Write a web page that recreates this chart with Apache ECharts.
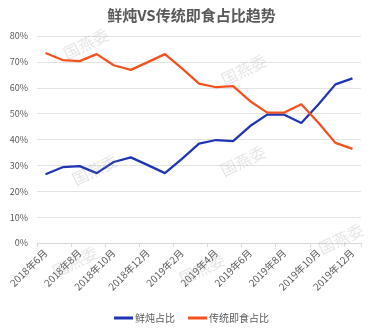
<!DOCTYPE html>
<html>
<head>
<meta charset="utf-8">
<script src="https://cdn.jsdelivr.net/npm/echarts@6/dist/echarts.min.js"></script>
<style>html,body{margin:0;padding:0;background:#fff}#c{width:383px;height:334px}</style>
</head>
<body>
<div id="c"></div>
<script>
const categories = ['2018年6月','2018年7月','2018年8月','2018年9月','2018年10月','2018年11月','2018年12月','2019年1月','2019年2月','2019年3月','2019年4月','2019年5月','2019年6月','2019年7月','2019年8月','2019年9月','2019年10月','2019年11月','2019年12月'];
const freshShare = [26.6, 29.3, 29.7, 27.0, 31.3, 33.1, 30.1, 27.0, 32.5, 38.4, 39.8, 39.4, 45.2, 49.6, 49.6, 46.4, 53.5, 61.3, 63.6];
const instantShare = [73.4, 70.7, 70.3, 73.0, 68.7, 66.9, 69.9, 73.0, 67.5, 61.6, 60.2, 60.6, 54.8, 50.4, 50.4, 53.6, 46.5, 38.7, 36.4];
const seriesNames = ['鲜炖占比', '传统即食占比'];
const titleText = '鲜炖VS传统即食占比趋势';
const watermarkText = '国燕委';

const FONT = '"Noto Sans CJK SC", "Noto Sans", sans-serif';
const wmPos = [[86,44],[244,70],[243,161],[95,170],[341,239],[75,262],[202,269]];
const chart = echarts.init(document.getElementById('c'), null, {renderer: 'canvas'});
chart.setOption({
  animation: false,
  textStyle: {fontFamily: FONT},
  title: {
    text: titleText, left: 'center', top: 3,
    textStyle: {fontSize: 15, fontWeight: 'bold', color: '#595959', fontFamily: FONT}
  },
  legend: {
    bottom: 6, left: 'center', itemGap: 13,
    itemWidth: 19, itemHeight: 3, icon: 'rect',
    textStyle: {fontSize: 10, color: '#595959', fontFamily: FONT, padding: [0,0,0,-3]},
    data: seriesNames
  },
  grid: {left: 37, right: 22, top: 36, bottom: 91, containLabel: false},
  xAxis: {
    type: 'category', data: categories, boundaryGap: true,
    axisLine: {lineStyle: {color: '#D9D9D9'}},
    axisTick: {show: true, interval: 1, length: 4, lineStyle: {color: '#D9D9D9'}},
    axisLabel: {interval: 1, rotate: 45, fontSize: 10, color: '#595959', margin: 8, fontFamily: FONT}
  },
  yAxis: {
    type: 'value', min: 0, max: 80, interval: 10,
    axisLine: {show: false}, axisTick: {show: false},
    axisLabel: {formatter: '{value}%', fontSize: 9, color: '#595959', margin: 9, fontFamily: FONT},
    splitLine: {lineStyle: {color: '#E3E3E3', width: 1}}
  },
  series: [
    {name: seriesNames[0], type: 'line', data: freshShare, symbol: 'none',
     lineStyle: {color: '#2035B5', width: 2.25}, itemStyle: {color: '#2035B5'}},
    {name: seriesNames[1], type: 'line', data: instantShare, symbol: 'none',
     lineStyle: {color: '#F4511E', width: 2.25}, itemStyle: {color: '#F4511E'}}
  ],
  graphic: wmPos.map(p => ({
    type: 'text', x: p[0], y: p[1], rotation: 26 * Math.PI / 180, z: 100, silent: true,
    style: {text: watermarkText, fontSize: 16, fontFamily: FONT, fill: 'rgba(150,150,150,0.25)', align: 'center', verticalAlign: 'middle'}
  }))
});
</script>
</body>
</html>
